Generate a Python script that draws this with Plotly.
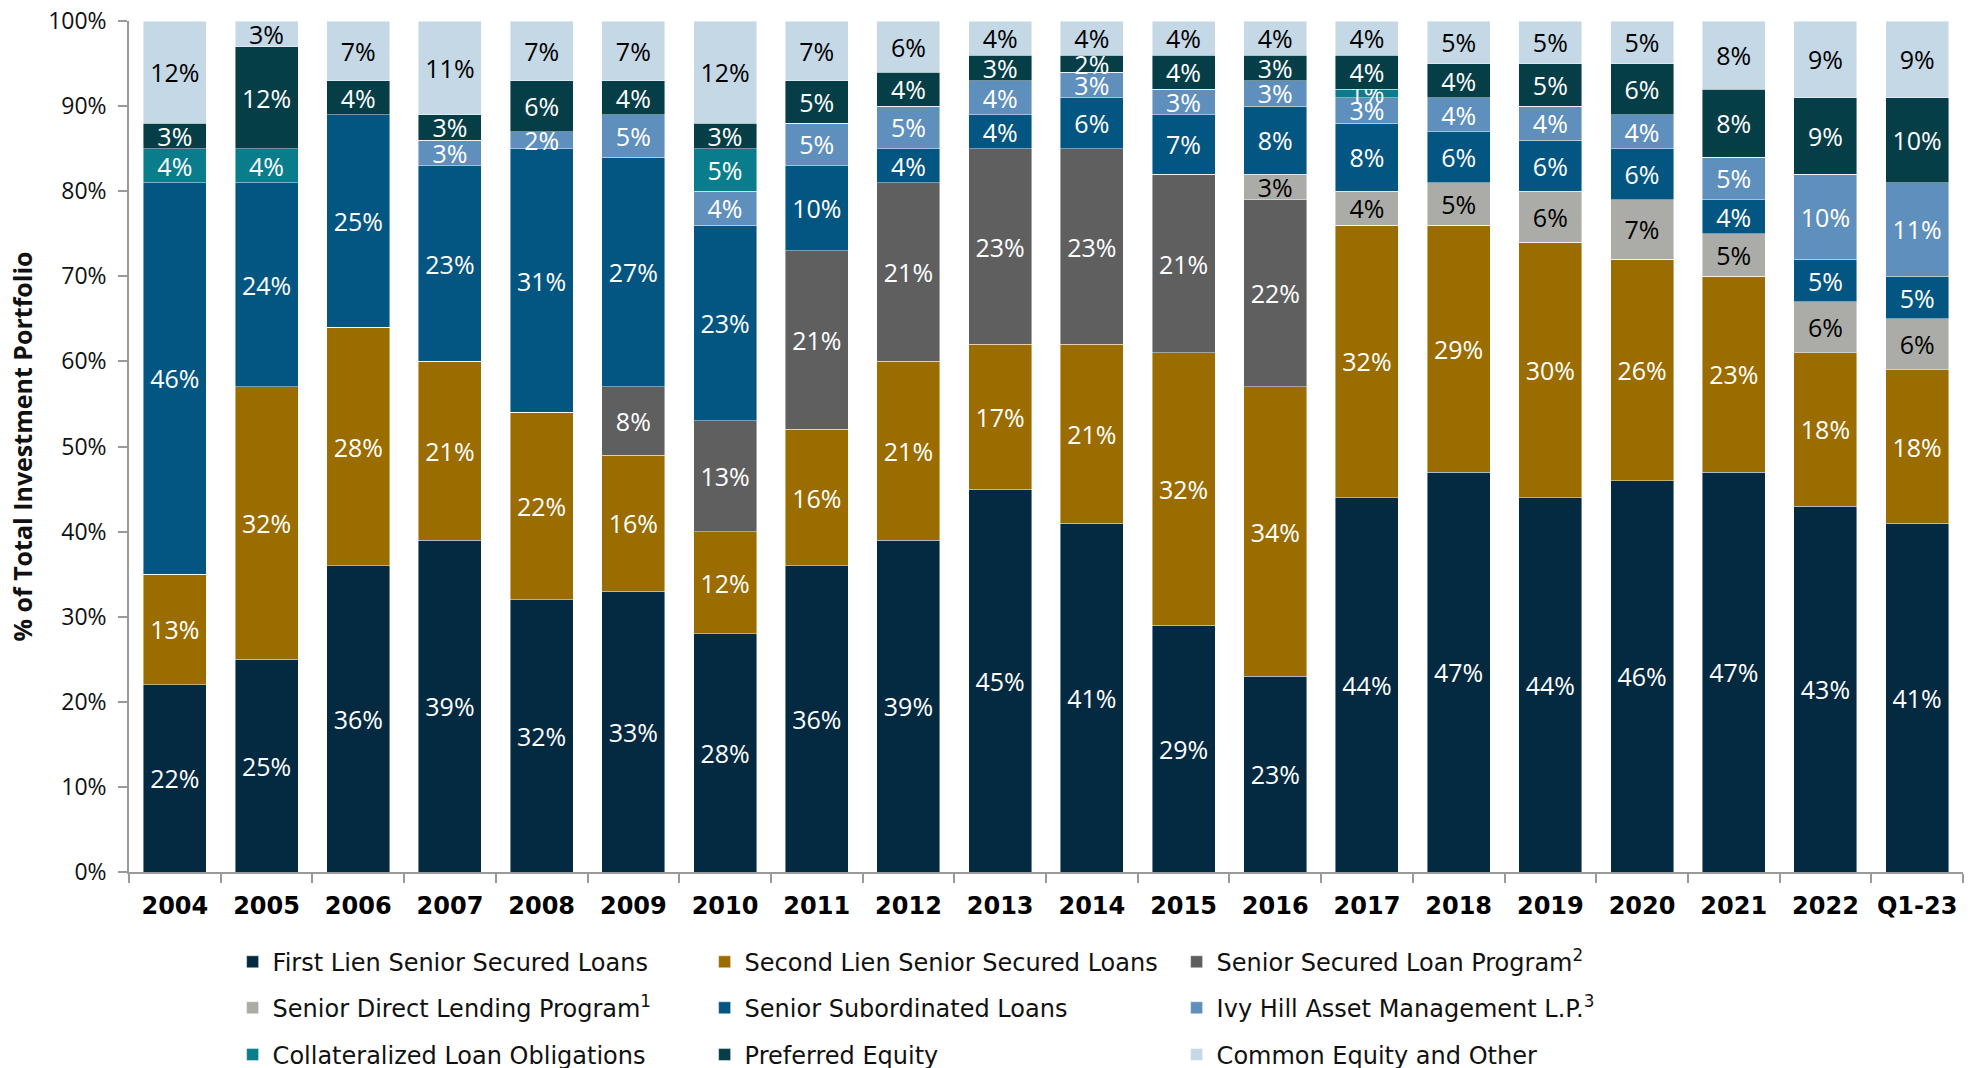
import plotly.graph_objects as go

categories = ["2004", "2005", "2006", "2007", "2008", "2009", "2010", "2011", "2012", "2013",
              "2014", "2015", "2016", "2017", "2018", "2019", "2020", "2021", "2022", "Q1-23"]

first_lien     = [22, 25, 36, 39, 32, 33, 28, 36, 39, 45, 41, 29, 23, 44, 47, 44, 46, 47, 43, 41]
second_lien    = [13, 32, 28, 21, 22, 16, 12, 16, 21, 17, 21, 32, 34, 32, 29, 30, 26, 23, 18, 18]
sslp           = [0, 0, 0, 0, 0, 8, 13, 21, 21, 23, 23, 21, 22, 0, 0, 0, 0, 0, 0, 0]
sdlp           = [0, 0, 0, 0, 0, 0, 0, 0, 0, 0, 0, 0, 3, 4, 5, 6, 7, 5, 6, 6]
senior_sub     = [46, 24, 25, 23, 31, 27, 23, 10, 4, 4, 6, 7, 8, 8, 6, 6, 6, 4, 5, 5]
ivy_hill       = [0, 0, 0, 3, 2, 5, 4, 5, 5, 4, 3, 3, 3, 3, 4, 4, 4, 5, 10, 11]
clo            = [4, 4, 0, 0, 0, 0, 5, 0, 0, 0, 0, 0, 0, 1, 0, 0, 0, 0, 0, 0]
preferred      = [3, 12, 4, 3, 6, 4, 3, 5, 4, 3, 2, 4, 3, 4, 4, 5, 6, 8, 9, 10]
common         = [12, 3, 7, 11, 7, 7, 12, 7, 6, 4, 4, 4, 4, 4, 5, 5, 5, 8, 9, 9]

series = [
    ("First Lien Senior Secured Loans", first_lien, "#032a40", "white", "legend"),
    ("Second Lien Senior Secured Loans", second_lien, "#9b6c00", "white", "legend"),
    ("Senior Secured Loan Program<sup>2</sup>", sslp, "#5f5f5f", "white", "legend"),
    ("Senior Direct Lending Program<sup>1</sup>", sdlp, "#abaca7", "black", "legend2"),
    ("Senior Subordinated Loans", senior_sub, "#045682", "white", "legend2"),
    ("Ivy Hill Asset Management L.P.<sup>3</sup>", ivy_hill, "#5f8fbc", "white", "legend2"),
    ("Collateralized Loan Obligations", clo, "#0a7d8c", "white", "legend3"),
    ("Preferred Equity", preferred, "#053e47", "white", "legend3"),
    ("Common Equity and Other", common, "#c4d8e6", "black", "legend3"),
]

LABEL_FONT = "Open Sans"
fig = go.Figure()
for name, vals, color, tcolor, lg in series:
    fig.add_trace(go.Bar(
        x=categories, y=vals, name=name,
        marker=dict(color=color, line=dict(color="rgba(255,255,255,0.55)", width=0.8)),
        text=[f"{v}%" if v else "" for v in vals],
        textposition="inside", insidetextanchor="middle",
        textfont=dict(family=LABEL_FONT, size=25, color=tcolor),
        constraintext="none",
        legend=lg,
    ))

leg_common = dict(orientation="h", xref="paper", yref="paper", xanchor="left", yanchor="middle",
                  entrywidth=427, entrywidthmode="pixels",
                  font=dict(family="DejaVu Sans", size=24, color="#111111"),
                  bgcolor="rgba(0,0,0,0)", itemclick=False, traceorder="normal")

fig.update_layout(
    width=1971, height=1068,
    margin=dict(l=129, r=8, t=21, b=196, autoexpand=False),
    barmode="stack", bargap=0.313,
    plot_bgcolor="white", paper_bgcolor="white",
    uniformtext=dict(minsize=25, mode="show"),
    legend=dict(leg_common, x=0.0565, y=-0.106),
    legend2=dict(leg_common, x=0.0565, y=-0.160),
    legend3=dict(leg_common, x=0.0565, y=-0.215),
    xaxis=dict(
        type="category", showline=True, linecolor="#9a9a9a", linewidth=1.5,
        ticks="outside", tickson="boundaries", ticklen=9, tickcolor="#9a9a9a", tickwidth=1.5,
        tickfont=dict(family="DejaVu Sans", size=24, color="black", weight="bold"),
        ticklabelstandoff=11,
    ),
    yaxis=dict(
        range=[0, 100], dtick=10, ticksuffix="%", showgrid=False,
        showline=True, linecolor="#9a9a9a", linewidth=1.5,
        ticks="outside", ticklen=9, tickcolor="#9a9a9a", tickwidth=1.5,
        tickfont=dict(family="Open Sans", size=23, color="#111111"),
        ticklabelstandoff=7,
        title=dict(text="% of Total Investment Portfolio",
                   font=dict(family="Open Sans", size=25, color="#111111", weight="bold"),
                   standoff=8),
        zeroline=False,
    ),
)

fig.write_html("out.html", config={"displayModeBar": False},
               post_script="document.body.style.margin='0px';")
